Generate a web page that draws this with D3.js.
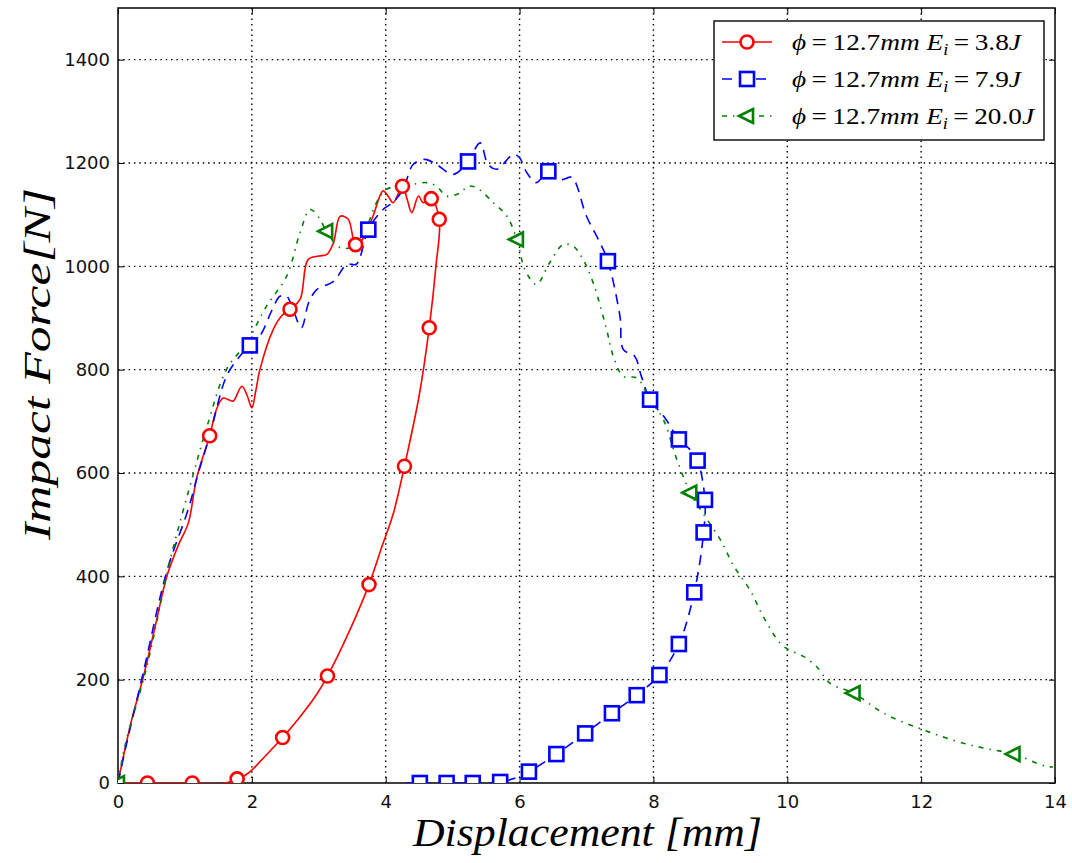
<!DOCTYPE html>
<html>
<head>
<meta charset="utf-8">
<script src="https://cdn.jsdelivr.net/npm/d3@7"></script>
<style>
  html, body { margin: 0; padding: 0; background: #fff; }
  svg { display: block; }
</style>
</head>
<body>
<svg id="chart" width="1072" height="863"></svg>
<script>
// Impact force vs. displacement, three impact energies

const xTicks = [0, 2, 4, 6, 8, 10, 12, 14];
const yTicks = [0, 200, 400, 600, 800, 1000, 1200, 1400];

const seriesNames = ["3.8", "7.9", "20.0"];

// 3.8 J: loading then unloading path
const curve38 = [
  [0,0],[0.08,51],[0.2,120],[0.38,206],[0.55,300],[0.73,400],[0.9,460],[1.05,503],[1.18,593],
  [1.37,672],[1.47,723],[1.57,745],[1.65,742],[1.72,739],[1.85,768],[1.93,750],[2.0,726],
  [2.06,760],[2.12,800],[2.32,878],[2.45,905],[2.57,917],[2.72,936],[2.84,1013],[3.0,1020],
  [3.12,1023],[3.22,1046],[3.32,1097],[3.44,1091],[3.55,1042],[3.67,1055],[3.81,1097],
  [3.96,1146],[4.04,1135],[4.11,1123],[4.25,1155],[4.32,1130],[4.39,1104],[4.49,1136],
  [4.56,1123],[4.68,1131],[4.80,1091],[4.75,1000],[4.65,881],[4.5,750],[4.28,613],
  [4.11,520],[3.95,460],[3.75,384],[3.45,292],[3.13,207],[2.95,168],[2.7,125],
  [2.46,88],[2.17,48],[2.0,25],[1.9,15],[1.78,8],[1.6,0],[1.11,0],[0.44,0],[0,0]
];
const marks38 = [
  [0.44,0],[1.11,0],[1.78,8],[2.46,88],[3.13,207],[3.75,384],[4.28,613],[4.65,881],
  [4.80,1091],[4.68,1131],[4.25,1155],[3.55,1042],[2.57,917],[1.37,672]
];

// 7.9 J
const curve79 = [
  [0,0],[0.1,60],[0.38,215],[0.73,410],[1.05,530],[1.2,600],[1.37,672],[1.62,787],[1.82,826],
  [1.97,847],[2.12,865],[2.3,915],[2.42,942],[2.52,942],[2.62,915],[2.74,881],[2.85,930],
  [2.97,955],[3.22,971],[3.42,1004],[3.56,1004],[3.74,1071],[3.96,1110],[4.11,1124],
  [4.26,1149],[4.41,1197],[4.59,1207],[4.76,1197],[5.01,1178],[5.23,1203],[5.41,1239],
  [5.53,1197],[5.66,1188],[5.91,1217],[6.0,1210],[6.11,1181],[6.25,1162],[6.43,1184],
  [6.63,1168],[6.78,1172],[7.0,1097],[7.20,1046],[7.32,1010],[7.50,903],[7.55,839],
  [7.72,826],[7.82,787],[7.95,742],[8.17,707],[8.38,665],[8.55,645],[8.66,624],[8.77,548],
  [8.75,485],[8.61,369],[8.38,269],[8.09,209],[7.75,170],[7.38,135],[6.98,96],[6.55,56],
  [6.14,22],[5.9,8],[5.71,2],[5.30,0],[4.91,0],[4.51,0],[4.3,0]
];
const marks79 = [
  [1.97,847],[3.74,1071],[5.23,1203],[6.43,1184],[7.32,1010],[7.95,742],[8.38,665],
  [8.66,624],[8.77,548],[8.75,485],[8.61,369],[8.38,269],[8.09,209],[7.75,170],[7.38,135],
  [6.98,96],[6.55,56],[6.14,22],[5.71,2],[5.30,0],[4.91,0],[4.51,0]
];

// 20.0 J
const curve200 = [
  [0,0],[0.1,70],[0.43,225],[0.78,432],[1.13,600],[1.33,690],[1.62,800],[1.92,852],
  [2.22,923],[2.52,981],[2.72,1065],[2.87,1110],[3.02,1091],[3.11,1068],[3.32,1036],
  [3.52,1039],[3.72,1078],[3.86,1123],[4.01,1149],[4.21,1155],[4.41,1159],[4.61,1162],
  [4.76,1155],[4.91,1136],[5.11,1142],[5.23,1155],[5.36,1152],[5.61,1123],[5.81,1097],
  [5.96,1052],[6.08,994],[6.25,965],[6.45,1007],[6.65,1042],[6.80,1039],[6.95,1013],
  [7.10,968],[7.30,878],[7.40,826],[7.55,787],[7.75,784],[7.95,742],[8.15,703],[8.35,626],
  [8.55,562],[8.75,520],[9.0,471],[9.2,420],[9.44,374],[9.65,320],[9.89,271],[10.02,258],
  [10.24,245],[10.44,225],[10.64,193],[10.99,174],[11.44,135],[12.03,103],[12.63,77],
  [13.0,66],[13.38,56],[13.87,32],[13.97,31]
];
const marks200 = [[0,0],[3.11,1068],[5.96,1052],[8.55,562],[10.99,174],[13.38,56]];

const margin = { left: 118, top: 8, right: 1072 - 1055, bottom: 863 - 783 };
const W = 1072, H = 863;
const innerW = W - margin.left - margin.right;
const innerH = H - margin.top - margin.bottom;

const svg = d3.select("#chart");
const g = svg.append("g").attr("transform", `translate(${margin.left},${margin.top})`);

const x = d3.scaleLinear().domain([0, 14]).range([0, innerW]);
const y = d3.scaleLinear().domain([0, 1500]).range([innerH, 0]);

// dotted grid
const grid = g.append("g");
grid.selectAll("line.gx").data(xTicks.slice(1, -1)).join("line")
  .attr("x1", d => x(d)).attr("x2", d => x(d)).attr("y1", 0).attr("y2", innerH)
  .attr("stroke", "#000").attr("stroke-width", 1.4).attr("stroke-dasharray", "1.5,3.8");
grid.selectAll("line.gy").data(yTicks.slice(1)).join("line")
  .attr("y1", d => y(d)).attr("y2", d => y(d)).attr("x1", 0).attr("x2", innerW)
  .attr("stroke", "#000").attr("stroke-width", 1.4).attr("stroke-dasharray", "1.5,3.8");

// axes with inward ticks
const tickFont = "'DejaVu Sans', sans-serif";
const xAxis = g.append("g").attr("transform", `translate(0,${innerH})`)
  .call(d3.axisBottom(x).tickValues(xTicks).tickSize(-6).tickPadding(12).tickFormat(d3.format("d")));
const yAxis = g.append("g")
  .call(d3.axisLeft(y).tickValues(yTicks).tickSize(-6).tickPadding(8).tickFormat(d3.format("d")));
const xAxisTop = g.append("g")
  .call(d3.axisTop(x).tickValues(xTicks).tickSize(-6).tickFormat(""));
const yAxisRight = g.append("g").attr("transform", `translate(${innerW},0)`)
  .call(d3.axisRight(y).tickValues(yTicks).tickSize(-6).tickFormat(""));
[xAxis, yAxis, xAxisTop, yAxisRight].forEach(a => {
  a.select(".domain").remove();
  a.selectAll(".tick line").attr("stroke", "#000").attr("stroke-width", 1);
  a.selectAll(".tick text").attr("font-family", tickFont).attr("font-size", 18).attr("fill", "#111");
});

// frame
g.append("rect").attr("x", 0).attr("y", 0).attr("width", innerW).attr("height", innerH)
  .attr("fill", "none").attr("stroke", "#111").attr("stroke-width", 1.6);

const line = d3.line().x(d => x(d[0])).y(d => y(d[1])).curve(d3.curveCatmullRom.alpha(0.5));

g.append("clipPath").attr("id", "plotclip")
  .append("rect").attr("x", 0).attr("y", 0).attr("width", innerW).attr("height", innerH);
const plot = g.append("g").attr("clip-path", "url(#plotclip)");

const styles = [
  { curve: curve38, marks: marks38, color: "#ff0000", dash: null, width: 1.6, marker: "circle" },
  { curve: curve79, marks: marks79, color: "#0000ff", dash: "10,7", width: 1.6, marker: "square" },
  { curve: curve200, marks: marks200, color: "#008000", dash: "5,6,1.5,6", width: 1.6, marker: "triangle" }
];

function drawMarker(sel, type, color) {
  if (type === "circle") {
    sel.append("circle").attr("r", 6.5);
  } else if (type === "square") {
    sel.append("rect").attr("x", -7).attr("y", -7).attr("width", 14).attr("height", 14);
  } else {
    sel.append("path").attr("d", "M-8,0L6,-7L6,7Z");
  }
  sel.selectAll("*").attr("fill", "#fff").attr("stroke", color).attr("stroke-width", 2.6);
}

styles.forEach(s => {
  plot.append("path").datum(s.curve).attr("d", line)
    .attr("fill", "none").attr("stroke", s.color).attr("stroke-width", s.width)
    .attr("stroke-dasharray", s.dash).attr("stroke-linejoin", "round");
});
styles.forEach(s => {
  plot.selectAll(null).data(s.marks).join("g")
    .attr("transform", d => `translate(${x(d[0])},${y(d[1])})`)
    .each(function () { drawMarker(d3.select(this), s.marker, s.color); });
});

// axis titles (serif italic, stretched to a Computer-Modern-like width)
const mathFont = "'Liberation Serif', 'DejaVu Serif', serif";
svg.append("text")
  .attr("x", 413).attr("y", 846)
  .attr("font-family", mathFont).attr("font-style", "italic")
  .attr("font-size", 40).attr("fill", "#000")
  .attr("textLength", 349).attr("lengthAdjust", "spacingAndGlyphs")
  .text("Displacement [mm]");
svg.append("text")
  .attr("transform", "translate(50,540) rotate(-90)")
  .attr("font-family", mathFont).attr("font-style", "italic")
  .attr("font-size", 37).attr("fill", "#000")
  .attr("textLength", 352).attr("lengthAdjust", "spacingAndGlyphs")
  .text("Impact Force[N]");

// legend
const legend = svg.append("g").attr("transform", "translate(714,21)");
legend.append("rect").attr("width", 330).attr("height", 119)
  .attr("fill", "#fff").attr("stroke", "#222").attr("stroke-width", 1.6);
const legendWidths = [229, 229, 242];
styles.forEach((s, i) => {
  const row = legend.append("g").attr("transform", `translate(0,${21 + i * 37})`);
  row.append("line").attr("x1", 8).attr("x2", 58).attr("y1", 0).attr("y2", 0)
    .attr("stroke", s.color).attr("stroke-width", s.width).attr("stroke-dasharray", s.dash);
  const m = row.append("g").attr("transform", "translate(33,0)");
  drawMarker(m, s.marker, s.color);
  const t = row.append("text").attr("x", 78).attr("y", 8)
    .attr("font-family", mathFont).attr("font-size", 24).attr("fill", "#000")
    .attr("textLength", legendWidths[i]).attr("lengthAdjust", "spacingAndGlyphs");
  t.append("tspan").attr("font-style", "italic").text("\u03d5");
  t.append("tspan").text("\u2009=\u200912.7");
  t.append("tspan").attr("font-style", "italic").text("mm E");
  t.append("tspan").attr("font-style", "italic").attr("font-size", 16).attr("dy", 5).text("i");
  t.append("tspan").attr("dy", -5).text("\u2009=\u2009" + seriesNames[i]);
  t.append("tspan").attr("font-style", "italic").text("J");
});
</script>
</body>
</html>
